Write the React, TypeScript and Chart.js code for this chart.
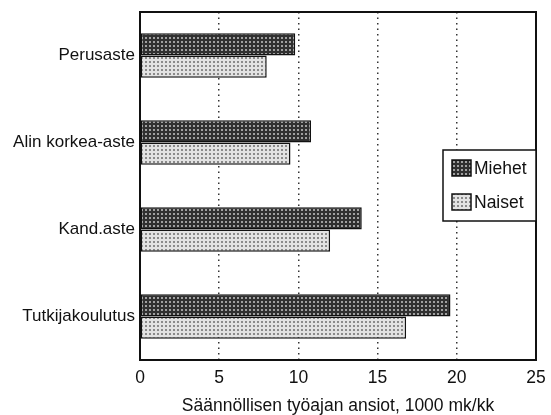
import React, { useEffect, useRef } from "react";
import { Chart, registerables } from "chart.js";

Chart.register(...registerables);

const categories = ["Perusaste", "Alin korkea-aste", "Kand.aste", "Tutkijakoulutus"];
const miehet = [9.8, 10.8, 14.0, 19.6];
const naiset = [8.0, 9.5, 12.0, 16.8];
const seriesLabels = ["Miehet", "Naiset"];
const axisTitle = "Säännöllisen työajan ansiot, 1000 mk/kk";

const FONT = '"Liberation Sans", Arial, Helvetica, sans-serif';
const INK = "#111111";

function makePattern(bg: string, dot: string): CanvasPattern | string {
  const c = document.createElement("canvas");
  c.width = 4;
  c.height = 4;
  const g = c.getContext("2d");
  if (!g) return bg;
  g.fillStyle = bg;
  g.fillRect(0, 0, 4, 4);
  g.fillStyle = dot;
  g.fillRect(1, 1, 2, 2);
  const p = g.createPattern(c, "repeat");
  return p || bg;
}

const framePlugin = {
  id: "frame",
  afterDraw(chart: any) {
    const { ctx, chartArea } = chart;
    ctx.save();
    ctx.strokeStyle = INK;
    ctx.lineWidth = 2;
    ctx.setLineDash([]);
    ctx.strokeRect(chartArea.left, chartArea.top, chartArea.right - chartArea.left, chartArea.bottom - chartArea.top);
    ctx.restore();
  },
};

const legendPlugin = {
  id: "insideLegend",
  afterDraw(chart: any) {
    const { ctx, chartArea } = chart;
    const w = 93;
    const h = 71;
    const left = chartArea.right - w;
    const top = chartArea.top + 138;
    ctx.save();
    ctx.fillStyle = "#fff";
    ctx.fillRect(left, top, w, h);
    ctx.strokeStyle = INK;
    ctx.lineWidth = 1.5;
    ctx.setLineDash([]);
    ctx.strokeRect(left, top, w, h);
    chart.data.datasets.forEach((ds: any, i: number) => {
      const cy = top + 18 + i * 34;
      ctx.fillStyle = ds.backgroundColor;
      ctx.fillRect(left + 9, cy - 8, 19, 16);
      ctx.strokeStyle = INK;
      ctx.lineWidth = 1.5;
      ctx.strokeRect(left + 9, cy - 8, 19, 16);
      ctx.fillStyle = INK;
      ctx.font = `17.5px ${FONT}`;
      ctx.textBaseline = "middle";
      ctx.textAlign = "left";
      ctx.fillText(ds.label, left + 31, cy + 1);
    });
    ctx.restore();
  },
};

export default function App() {
  const ref = useRef<HTMLCanvasElement | null>(null);

  useEffect(() => {
    if (!ref.current) return;
    const dark = makePattern("#303030", "#a0a0a0");
    const light = makePattern("#e2e2e2", "#8a8a8a");
    const chart = new Chart(ref.current, {
      type: "bar",
      data: {
        labels: categories,
        datasets: [
          {
            label: seriesLabels[0],
            data: miehet,
            backgroundColor: dark as any,
            borderColor: INK,
            borderWidth: 1.5,
            borderSkipped: false,
            categoryPercentage: 0.51,
            barPercentage: 1,
          },
          {
            label: seriesLabels[1],
            data: naiset,
            backgroundColor: light as any,
            borderColor: INK,
            borderWidth: 1.5,
            borderSkipped: false,
            categoryPercentage: 0.51,
            barPercentage: 1,
          },
        ],
      },
      options: {
        indexAxis: "y",
        animation: false,
        responsive: false,
        maintainAspectRatio: false,
        layout: { padding: { top: 12, right: 15, left: 0, bottom: 0 } },
        plugins: {
          legend: { display: false },
          tooltip: { enabled: false },
        },
        scales: {
          x: {
            min: 0,
            max: 25,
            ticks: {
              stepSize: 5,
              color: INK,
              font: { family: FONT, size: 17.5 },
              padding: 8,
            },
            grid: {
              color: (c: any) =>
                c.tick && (c.tick.value === 0 || c.tick.value === 25) ? "rgba(0,0,0,0)" : "#333333",
              lineWidth: 1.5,
              drawTicks: false,
            },
            border: { display: false, dash: [1.5, 4] },
            title: {
              display: true,
              text: axisTitle,
              color: INK,
              font: { family: FONT, size: 17.5, lineHeight: 1 },
              padding: { top: 0, bottom: 0 },
            },
            afterFit: (s: any) => {
              s.height = 55;
              s.paddingLeft = 0;
              s.paddingRight = 0;
            },
          },
          y: {
            ticks: {
              color: INK,
              font: { family: FONT, size: 17 },
              padding: 5,
            },
            grid: { display: false, drawTicks: false },
            border: { display: false },
            afterFit: (s: any) => {
              s.width = 140;
              s.paddingTop = 0;
              s.paddingBottom = 0;
            },
          },
        },
      },
      plugins: [framePlugin, legendPlugin],
    } as any);
    return () => chart.destroy();
  }, []);

  return (
    <div style={{ position: "absolute", left: 0, top: 0, width: 551, height: 415, background: "#fff" }}>
      <canvas ref={ref} width={551} height={415} style={{ display: "block" }} />
    </div>
  );
}
